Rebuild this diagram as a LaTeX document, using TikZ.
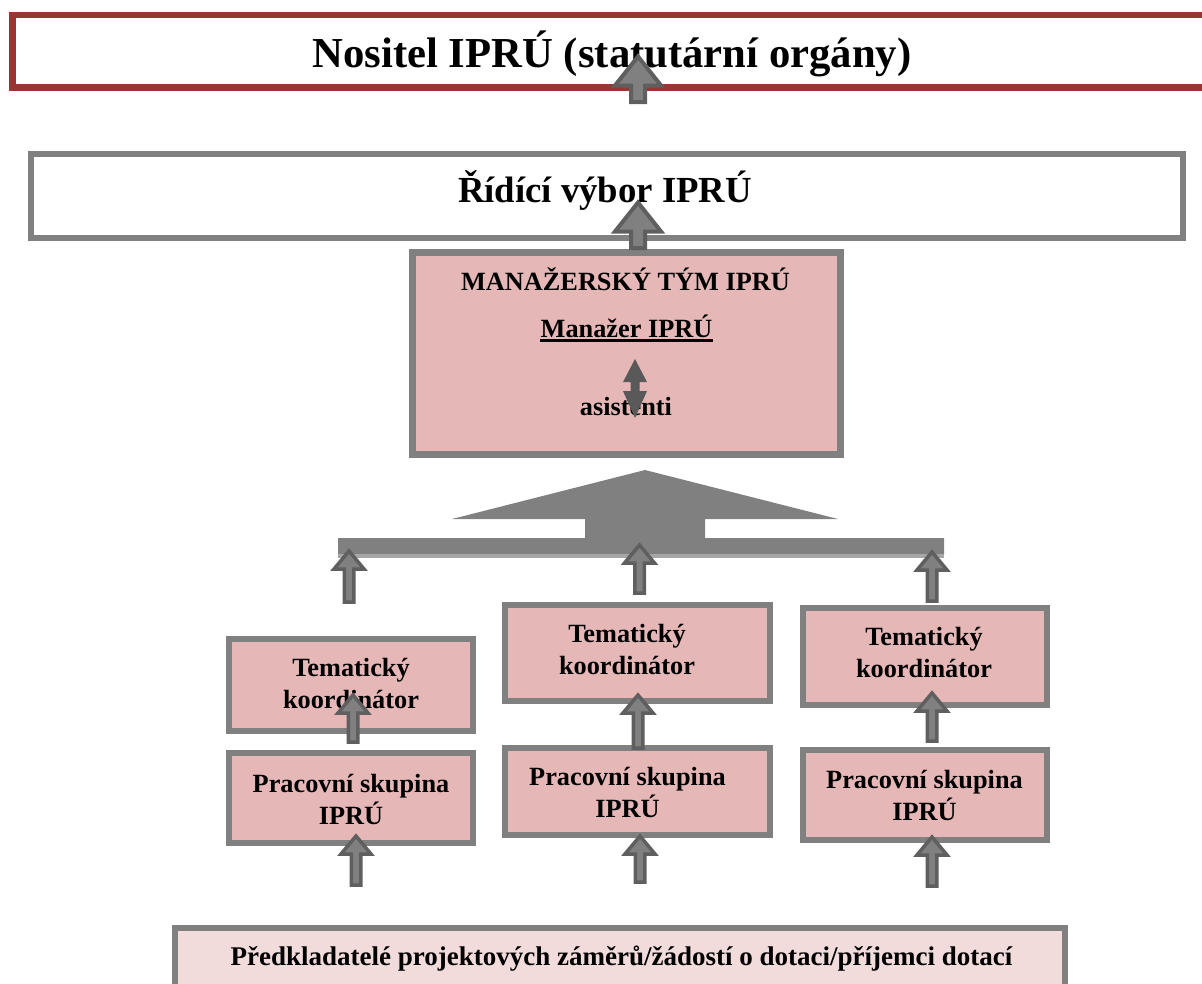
\documentclass[tikz,border=0pt]{standalone}
\usepackage{fontspec}
\setmainfont{Liberation Serif}
\usetikzlibrary{calc}

\definecolor{nositelcervena}{RGB}{149,55,53}
\definecolor{seda}{RGB}{128,128,128}
\definecolor{svetleseda}{RGB}{166,166,166}
\definecolor{ruzova}{RGB}{229,184,183}
\definecolor{svetleruzova}{RGB}{242,219,219}
\definecolor{sipkaokraj}{RGB}{95,95,95}
\definecolor{sipkavypln}{RGB}{128,128,128}
\definecolor{tmavoseda}{RGB}{89,89,89}

\begin{document}
\begin{tikzpicture}[x=1pt,y=-1pt,
    ramec/.style={draw=seda, line width=6pt, inner sep=0pt},
    popis/.style={inner sep=0pt, align=center, font=\fontsize{26.3}{32}\selectfont\bfseries},
    blok/.style n args={3}{draw=sipkaokraj, fill=sipkavypln, line width=3.5pt,
        to path={let \p1=(\tikztostart), \p2=(\tikztotarget) in
            (\x1-#1pt,\y1) -- (\x1-#1pt,\y2-#3pt) -- (\x1-#2pt,\y2-#3pt) -- (\x1,\y2)
            -- (\x1+#2pt,\y2-#3pt) -- (\x1+#1pt,\y2-#3pt) -- (\x1+#1pt,\y1) -- cycle}},
    velka/.style={blok={7}{23}{29}, line width=4pt},
    mala/.style={blok={4.75}{15}{18}},
    obousmerna/.style={fill=tmavoseda,
        to path={let \p1=(\tikztostart), \p2=(\tikztotarget) in
            (\x1,\y1) -- (\x1-12pt,\y1+27pt) -- (\x1-4.5pt,\y1+27pt) -- (\x1-4.5pt,\y2-23pt)
            -- (\x1-12pt,\y2-23pt) -- (\x2,\y2) -- (\x1+12pt,\y2-23pt) -- (\x1+4.5pt,\y2-23pt)
            -- (\x1+4.5pt,\y1+27pt) -- (\x1+12pt,\y1+27pt) -- cycle}}]
    \useasboundingbox (0,0) rectangle (1202,983);

    % ramecky
    \node[ramec, draw=nositelcervena, line width=6.5pt, minimum width=1199pt, minimum height=72.5pt] (nositel) at (612,51.25) {};
    \node[ramec, minimum width=1152pt, minimum height=84pt] (ridici) at (607,196) {};
    \node[ramec, fill=ruzova, line width=7pt, minimum width=427.5pt, minimum height=201.5pt] (manazer) at (626.25,353.25) {};
    \node[ramec, fill=ruzova, minimum width=244pt, minimum height=92pt] (koord1) at (351,684.5) {};
    \node[ramec, fill=ruzova, minimum width=244pt, minimum height=90pt] (skup1) at (351,798) {};
    \node[ramec, fill=ruzova, minimum width=265pt, minimum height=96pt] (koord2) at (637.5,653) {};
    \node[ramec, fill=ruzova, minimum width=265pt, minimum height=87pt] (skup2) at (637.5,791.5) {};
    \node[ramec, fill=ruzova, minimum width=244pt, minimum height=97pt] (koord3) at (925,656.5) {};
    \node[ramec, fill=ruzova, minimum width=244pt, minimum height=90pt] (skup3) at (925,795) {};
    \node[ramec, fill=svetleruzova, minimum width=890pt, minimum height=59pt] (predkl) at (620,957) {};

    % sbirna sipka
    \fill[seda] (338,538) -- (585,538) -- (585,519) -- (452,519) -- (645,470) -- (838,519)
        -- (705,519) -- (705,538) -- (944,538) -- (944,554) -- (338,554) -- cycle;
    \fill[svetleseda] (338,554) rectangle (944,558);

    % texty
    \node[popis, anchor=base, font=\fontsize{42.7}{50}\selectfont\bfseries] (nositeltext) at (612,67) {Nositel IPRÚ (statutární orgány)};
    \node[popis, anchor=base, font=\fontsize{36.75}{44}\selectfont\bfseries] (riditext) at (605,202) {Řídící výbor IPRÚ};
    \node[popis, anchor=base] (tymtext) at (625.5,290) {MANAŽERSKÝ TÝM IPRÚ};
    \node[popis, anchor=base] (mgrtext) at (626.5,337) {Manažer IPRÚ};
    \node[popis, anchor=base] (asisttext) at (626,415) {asistenti};
    \node[popis] (koord1text) at (351,683) {Tematický\\koordinátor};
    \node[popis] (skup1text) at (351,799) {Pracovní skupina\\IPRÚ};
    \node[popis] (koord2text) at (627,649) {Tematický\\koordinátor};
    \node[popis] (skup2text) at (627.5,792) {Pracovní skupina\\IPRÚ};
    \node[popis] (koord3text) at (924,652) {Tematický\\koordinátor};
    \node[popis] (skup3text) at (924.5,795) {Pracovní skupina\\IPRÚ};
    \node[popis, anchor=base, font=\fontsize{27}{32}\selectfont\bfseries] (predkltext) at (621.5,965) {Předkladatelé projektových záměrů/žádostí o dotaci/příjemci dotací};
    \draw[line width=2.5pt] ([yshift=-3.5pt]mgrtext.base west) -- ([yshift=-3.5pt]mgrtext.base east);

    % sipky
    \coordinate (z1) at (638,102);   \coordinate (k1) at (638,56.5);
    \coordinate (z2) at (638,248);   \coordinate (k2) at (638,202.5);
    \coordinate (z3) at (349,602);   \coordinate (k3) at (349,551);
    \coordinate (z4) at (639.5,593); \coordinate (k4) at (639.5,545);
    \coordinate (z5) at (932,601);   \coordinate (k5) at (932,552);
    \coordinate (z6) at (353,742);   \coordinate (k6) at (353,695);
    \coordinate (z7) at (638,748);   \coordinate (k7) at (638,695);
    \coordinate (z8) at (932,741);   \coordinate (k8) at (932,693);
    \coordinate (z9) at (356,885);   \coordinate (k9) at (356,836);
    \coordinate (z10) at (640,882);  \coordinate (k10) at (640,836);
    \coordinate (z11) at (932,886);  \coordinate (k11) at (932,837);
    \coordinate (d1) at (635,418);   \coordinate (h1) at (635,359);
    \draw[velka] (z1) to (k1);
    \draw[velka] (z2) to (k2);
    \draw[mala] (z3) to (k3);
    \draw[mala] (z4) to (k4);
    \draw[mala] (z5) to (k5);
    \draw[mala] (z6) to (k6);
    \draw[mala] (z7) to (k7);
    \draw[mala] (z8) to (k8);
    \draw[mala] (z9) to (k9);
    \draw[mala] (z10) to (k10);
    \draw[mala] (z11) to (k11);
    \fill[obousmerna] (d1) to (h1);
\end{tikzpicture}
\end{document}
